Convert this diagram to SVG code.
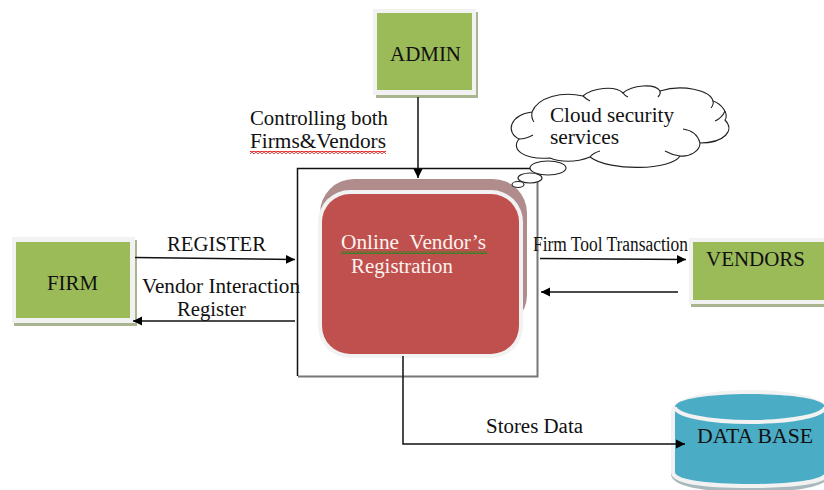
<svg xmlns="http://www.w3.org/2000/svg" width="824" height="490" viewBox="0 0 824 490">
<style>
text{font-family:"Liberation Serif","Times New Roman",serif;font-size:20.500px;fill:#111}
.w{fill:#fbf3f0}
.frame{fill:#f2f2f2}
.sh{fill:#a9b58f}
.green{fill:#9bbb59}
.ln{fill:none;stroke:#111;stroke-width:1.5}
.cl{fill:#fff;stroke:#222;stroke-width:1.100}
.hook{fill:none;stroke:#222;stroke-width:1.100}
</style>
<defs>
<marker id="ah" markerUnits="userSpaceOnUse" markerWidth="10" markerHeight="10" refX="9" refY="5" orient="auto"><path d="M0 0.500L9 5L0 9.500Z" fill="#000"/></marker>
<pattern id="wr" width="4" height="3" patternUnits="userSpaceOnUse"><path d="M0 2.500L2 .5L4 2.500" fill="none" stroke="#e01010" stroke-width="1.100"/></pattern>
<pattern id="wg" width="4" height="3" patternUnits="userSpaceOnUse"><path d="M0 2.500L2 .5L4 2.500" fill="none" stroke="#1f8a1f" stroke-width="1.100"/></pattern>
</defs>
<rect width="824" height="490" fill="#fff"/>
<g id="frame-box"><path fill="none" stroke="#777" stroke-width="2" d="M537.500 169V376.500H298"/><path fill="none" stroke="#111" stroke-width="1.500" d="M297.500 376V168.500H537.500"/></g>
<g id="admin"><rect class="sh" x="376" y="12" width="102" height="86"/><rect class="frame" x="373" y="9" width="103" height="86"/><rect class="green" x="377" y="13" width="95" height="77"/><text x="390" y="61" textLength="71" lengthAdjust="spacingAndGlyphs">ADMIN</text></g>
<g id="firm"><rect class="sh" x="14" y="240" width="123" height="86"/><rect class="frame" x="12" y="237" width="123" height="86"/><rect class="green" x="16" y="242" width="114" height="76"/><text x="47" y="290" textLength="51" lengthAdjust="spacingAndGlyphs">FIRM</text></g>
<g id="vendors"><rect class="sh" x="691" y="242" width="133" height="65"/><rect class="frame" x="689" y="238" width="135" height="66"/><rect class="green" x="693" y="242" width="131" height="58"/><text x="706" y="266" textLength="99" lengthAdjust="spacingAndGlyphs">VENDORS</text></g>
<g id="registration"><rect x="320" y="179" width="207" height="150" rx="34" fill="#b08c8c"/><rect x="318" y="190" width="205" height="168" rx="32" fill="#f2f2f2"/><rect x="322" y="194" width="197" height="160" rx="28" fill="#c0504d"/><text class="w" x="341" y="249" textLength="145" lengthAdjust="spacingAndGlyphs" xml:space="preserve">Online  Vendor’s</text><text class="w" x="351" y="273" textLength="102" lengthAdjust="spacingAndGlyphs">Registration</text><rect x="341" y="251" width="146" height="3" fill="url(#wg)"/></g>
<g id="database"><path d="M671 414V474C671 486 700 492 750 492S830 486 830 474V414Z" fill="#a8b8bc"/><path class="frame" d="M671 412C671 400 700 390 750 390S830 400 830 412V472C830 484 800 488 750 488S671 484 671 472Z"/><path d="M675 407C675 399 708 394 750 394S825 399 825 407V472C825 480 790 484 750 484S675 480 675 472Z" fill="#4bacc6"/><path d="M675 407C675 415 708 422 750 422S825 415 825 407" fill="none" stroke="#f2f2f2" stroke-width="4"/><text x="697" y="443" textLength="116" lengthAdjust="spacingAndGlyphs">DATA BASE</text></g>
<g id="cloud"><ellipse class="cl" cx="548" cy="168" rx="18" ry="7"/><ellipse class="cl" cx="530" cy="178" rx="12" ry="5"/><ellipse class="cl" cx="518" cy="184.500" rx="6" ry="3"/>
<path class="cl" d="M532 112C538 97 562 91 583 96C592 88 615 85 623 93C632 85 655 83 660 91C682 84 710 90 713 101C722 104 729 114 725 120C735 130 725 143 700 143C700 151 690 157 680 156C672 170 610 172 590 157C575 163 560 162 550 158C525 160 510 150 519 139C505 132 510 115 532 112Z"/>
<path class="hook" d="M519 139Q526 139 533 135M532 112Q531 118 534 122M590 157Q593 153 600 151M680 156Q672 155 665 151M683 129Q697 131 700 143M715 121Q722 118 725 111M713 101Q714 104 711 108M660 91Q661 94 658 97M623 93Q625 96 628 97M583 96Q586 99 590 101"/></g>
<g id="connectors">
<path class="ln" d="M418 97V178" marker-end="url(#ah)"/>
<path class="ln" d="M135 257.500L295 259.500" marker-end="url(#ah)"/>
<path class="ln" d="M295 321H133" marker-end="url(#ah)"/>
<path class="ln" d="M540 258.500L686 259.500" marker-end="url(#ah)"/>
<path class="ln" d="M678 292H541" marker-end="url(#ah)"/>
<path class="ln" d="M403 356V444H685" marker-end="url(#ah)"/>
</g>
<g id="labels">
<text x="250" y="125" textLength="138" lengthAdjust="spacingAndGlyphs">Controlling both</text>
<text x="250" y="148" textLength="136" lengthAdjust="spacingAndGlyphs">Firms&amp;Vendors</text>
<rect x="250" y="151" width="136" height="3" fill="url(#wr)"/>
<text x="167" y="251" textLength="99" lengthAdjust="spacingAndGlyphs">REGISTER</text>
<text x="142" y="293" textLength="158" lengthAdjust="spacingAndGlyphs">Vendor Interaction</text>
<text x="177" y="316" textLength="69" lengthAdjust="spacingAndGlyphs">Register</text>
<text x="550" y="122" textLength="124" lengthAdjust="spacingAndGlyphs">Cloud security</text>
<text x="550" y="144" textLength="69" lengthAdjust="spacingAndGlyphs">services</text>
<text x="533" y="251" textLength="155" lengthAdjust="spacingAndGlyphs">Firm Tool Transaction</text>
<text x="486" y="433" textLength="97" lengthAdjust="spacingAndGlyphs">Stores Data</text>
</g>
</svg>
